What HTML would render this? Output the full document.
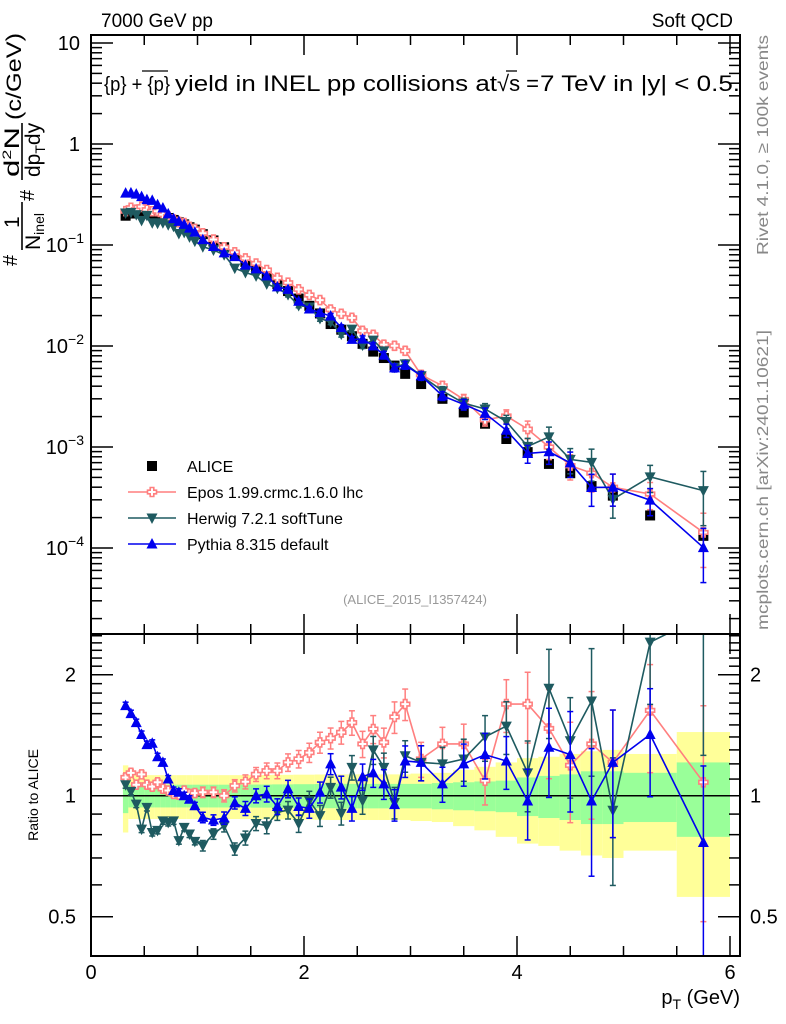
<!DOCTYPE html>
<html><head><meta charset="utf-8"><style>
html,body{margin:0;padding:0;background:#fff;}
svg{display:block;font-family:"Liberation Sans",sans-serif;}
</style></head><body>
<svg id="chart" width="786" height="1024" viewBox="0 0 786 1024" xmlns="http://www.w3.org/2000/svg">
<rect x="0" y="0" width="786" height="1024" fill="#fff"/>
<g id="bands"></g>
<g id="ticks"></g>
<g id="series"></g>
<rect x="91" y="35" width="649" height="599" fill="none" stroke="#000" stroke-width="2"/>
<rect x="91" y="634" width="649" height="322" fill="none" stroke="#000" stroke-width="2"/>
<text x="101" y="27" font-size="19">7000 GeV pp</text>
<text x="733" y="27" font-size="19" text-anchor="end">Soft QCD</text>
<g>
<text x="104" y="91" font-size="20" textLength="66" lengthAdjust="spacingAndGlyphs">{p} + {p}</text>
<text x="175" y="91" font-size="22" textLength="322" lengthAdjust="spacingAndGlyphs">yield in INEL pp collisions at</text>
<text x="497" y="91" font-size="22">√s =</text>
<text x="540" y="91" font-size="22" textLength="200" lengthAdjust="spacingAndGlyphs">7 TeV in |y| &lt; 0.5.</text>
<line x1="142" y1="71" x2="168" y2="71" stroke="#000" stroke-width="1.3"/>
<line x1="506" y1="71" x2="517" y2="71" stroke="#000" stroke-width="1.3"/>
</g>
<g transform="rotate(-90)">
<text x="-266" y="17" font-size="20">#</text>
<text x="-228" y="19" font-size="21">1</text>
<line x1="-250" y1="22" x2="-202" y2="22" stroke="#000" stroke-width="1.6"/>
<text x="-250" y="40" font-size="21">N<tspan font-size="14" dy="4">inel</tspan></text>
<text x="-201" y="34" font-size="20">#</text>
<text x="-177" y="19" font-size="21" textLength="50" lengthAdjust="spacingAndGlyphs">d<tspan font-size="12" dy="-8">2</tspan><tspan dy="8">N</tspan></text>
<line x1="-180" y1="22" x2="-123" y2="22" stroke="#000" stroke-width="1.6"/>
<text x="-177" y="40" font-size="21">dp<tspan font-size="14" dy="5">T</tspan><tspan dy="-5">dy</tspan></text>
<text x="-120" y="21" font-size="21" textLength="87" lengthAdjust="spacingAndGlyphs">(c/GeV)</text>
</g>
<text transform="translate(38,795) rotate(-90)" font-size="14" text-anchor="middle">Ratio to ALICE</text>
<text x="740" y="1004" font-size="20" text-anchor="end">p<tspan font-size="14" dy="5">T</tspan><tspan dy="-5"> (GeV)</tspan></text>
<text transform="translate(768,255) rotate(-90)" font-size="16" fill="#888" textLength="220" lengthAdjust="spacingAndGlyphs">Rivet 4.1.0, ≥ 100k events</text>
<text transform="translate(768,630) rotate(-90)" font-size="16" fill="#888" textLength="300" lengthAdjust="spacingAndGlyphs">mcplots.cern.ch [arXiv:2401.10621]</text>
<text x="415" y="604" font-size="13" fill="#999" text-anchor="middle">(ALICE_2015_I1357424)</text>
<g id="legend"></g>
</svg>
<script>
const ptCenters=[0.325,0.375,0.425,0.475,0.525,0.575,0.625,0.675,0.725,0.775,0.825,0.875,0.925,0.975,1.05,1.15,1.25,1.35,1.45,1.55,1.65,1.75,1.85,1.95,2.05,2.15,2.25,2.35,2.45,2.55,2.65,2.75,2.85,2.95,3.1,3.3,3.5,3.7,3.9,4.1,4.3,4.5,4.7,4.9,5.25,5.75];
const ptLow=[0.3,0.35,0.4,0.45,0.5,0.55,0.6,0.65,0.7,0.75,0.8,0.85,0.9,0.95,1.0,1.1,1.2,1.3,1.4,1.5,1.6,1.7,1.8,1.9,2.0,2.1,2.2,2.3,2.4,2.5,2.6,2.7,2.8,2.9,3.0,3.2,3.4,3.6,3.8,4.0,4.2,4.4,4.6,4.8,5.0,5.5];
const ptHigh=[0.35,0.4,0.45,0.5,0.55,0.6,0.65,0.7,0.75,0.8,0.85,0.9,0.95,1.0,1.1,1.2,1.3,1.4,1.5,1.6,1.7,1.8,1.9,2.0,2.1,2.2,2.3,2.4,2.5,2.6,2.7,2.8,2.9,3.0,3.2,3.4,3.6,3.8,4.0,4.2,4.4,4.6,4.8,5.0,5.5,6.0];
const aliceYield=[0.195,0.205,0.21,0.212,0.21,0.205,0.2,0.192,0.185,0.177,0.168,0.16,0.15,0.142,0.128,0.111,0.095,0.08,0.068,0.058,0.049,0.041,0.035,0.0295,0.025,0.021,0.0165,0.0145,0.0125,0.0105,0.0088,0.0076,0.0064,0.0053,0.0042,0.003,0.0022,0.0017,0.0012,0.00089,0.00068,0.00055,0.00041,0.00033,0.00021,0.000132];
const aliceStatErr=[0.095,0.065,0.065,0.065,0.065,0.065,0.065,0.065,0.065,0.065,0.065,0.065,0.065,0.065,0.065,0.065,0.065,0.065,0.065,0.066,0.066,0.067,0.067,0.068,0.068,0.069,0.069,0.07,0.07,0.07,0.07,0.07,0.07,0.07,0.07,0.075,0.08,0.085,0.09,0.11,0.12,0.13,0.15,0.15,0.14,0.21];
const aliceTotErr=[0.19,0.125,0.125,0.125,0.125,0.125,0.125,0.125,0.125,0.125,0.125,0.125,0.125,0.125,0.125,0.125,0.125,0.125,0.125,0.126,0.126,0.127,0.127,0.128,0.128,0.129,0.13,0.13,0.13,0.13,0.13,0.13,0.13,0.13,0.135,0.14,0.16,0.18,0.21,0.24,0.25,0.27,0.29,0.3,0.27,0.44];
const eposRatio=[1.11,1.14,1.065,1.13,1.065,1.053,1.08,1.04,1.03,1.01,1.006,1.03,1.01,1.015,1.02,1.02,1.0,1.059,1.083,1.13,1.154,1.154,1.21,1.234,1.28,1.357,1.39,1.437,1.52,1.345,1.465,1.357,1.57,1.69,1.234,1.345,1.345,1.09,1.69,1.69,1.47,1.19,1.345,1.21,1.63,1.08];
const herwigRatio=[1.065,1.025,0.953,0.826,0.935,0.81,0.82,0.866,0.858,0.866,0.773,0.834,0.803,0.77,0.751,0.803,0.842,0.737,0.785,0.853,0.842,0.909,0.921,0.853,0.972,0.892,1.049,0.904,1.176,0.972,1.3,1.176,0.962,1.257,1.21,1.2,1.234,1.4,1.49,1.14,1.85,1.37,1.72,0.92,2.41,2.8];
const pythiaRatio=[1.675,1.6,1.52,1.42,1.34,1.35,1.25,1.21,1.1,1.03,1.02,1.0,0.98,0.944,0.883,0.87,0.88,0.96,0.93,1.0,1.01,0.94,1.04,0.94,0.93,1.02,1.2,1.05,0.93,1.115,1.14,1.07,0.95,1.22,1.21,1.07,1.2,1.265,1.22,0.97,1.32,1.265,0.97,1.21,1.42,0.765];
const modelRelErr=[0.02,0.02,0.02,0.02,0.02,0.02,0.02,0.02,0.02,0.02,0.02,0.02,0.02,0.02,0.03,0.03,0.035,0.035,0.04,0.04,0.045,0.045,0.05,0.05,0.055,0.06,0.06,0.065,0.07,0.075,0.08,0.085,0.09,0.09,0.1,0.1,0.12,0.13,0.15,0.2,0.25,0.28,0.35,0.35,0.3,0.55];
const mainTickLabels=["10","1","10","10","10","10"];
const mainTickExps=[null,null,"−1","−2","−3","−4"];
const mainTickValues=[10,1,0.1,0.01,0.001,0.0001];
const ratioTickValues=[2,1,0.5];
const ratioTickLabels=["2","1","0.5"];
const xTickValues=[0,2,4,6];
const xTickLabels=["0","2","4","6"];

const NS="http://www.w3.org/2000/svg";
const X=pt=>91+pt*106.5;
const Ym=v=>144-101*Math.log10(v);
const Yr=r=>795.7-121*Math.log2(r);
const MAIN_TOP=35,MAIN_BOT=634,R_TOP=634,R_BOT=956;
function mk(tag,attrs,parent){const e=document.createElementNS(NS,tag);for(const k in attrs)e.setAttribute(k,attrs[k]);parent.appendChild(e);return e;}
const bandsG=document.getElementById('bands');
const ticksG=document.getElementById('ticks');
const seriesG=document.getElementById('series');
const legendG=document.getElementById('legend');
const defs=mk('defs',{},document.getElementById('chart'));
const cpM=mk('clipPath',{id:'clipMain'},defs);mk('rect',{x:91,y:MAIN_TOP,width:649,height:MAIN_BOT-MAIN_TOP},cpM);
const cpR=mk('clipPath',{id:'clipRatio'},defs);mk('rect',{x:91,y:R_TOP,width:649,height:R_BOT-R_TOP},cpR);

for(let i=0;i<ptCenters.length;i++){
  const x1=X(ptLow[i]),x2=X(ptHigh[i]);
  const y=mk('rect',{x:x1,y:Yr(1+aliceTotErr[i]),width:x2-x1,height:Yr(1-aliceTotErr[i])-Yr(1+aliceTotErr[i]),fill:'#ffff99'},bandsG);
  
  
}
for(let i=0;i<ptCenters.length;i++){
  const x1=X(ptLow[i]),x2=X(ptHigh[i]);
  const g=mk('rect',{x:x1,y:Yr(1+aliceStatErr[i]),width:x2-x1,height:Yr(1-aliceStatErr[i])-Yr(1+aliceStatErr[i]),fill:'#99ff99'},bandsG);
  
  
}
const one=mk('line',{x1:91,x2:740,y1:Yr(1),y2:Yr(1),stroke:'#000','stroke-width':1.5},bandsG);



function tick(x1,y1,x2,y2){mk('line',{x1,y1,x2,y2,stroke:'#000','stroke-width':1.5},ticksG);}
for(let d=-5;d<=1;d++){for(let m=1;m<=9;m++){const v=m*Math.pow(10,d);const y=Ym(v);if(y<MAIN_TOP+1||y>MAIN_BOT-1)continue;const L=m===1?22:11;tick(91,y,91+L,y);tick(740,y,740-L,y);}}
mainTickValues.forEach((v,i)=>{const t=mk('text',{x:80,y:Ym(v)+7,'font-size':20,'text-anchor':'end'},ticksG);
  
  
  t.textContent=mainTickLabels[i];
  if(mainTickExps[i]){const s=mk('tspan',{'font-size':14,dy:-9},t);s.textContent=mainTickExps[i];t.setAttribute('x',84);}
});
for(let r=0.4;r<=2.5;r=Math.round((r+0.1)*10)/10){const y=Yr(r);if(y<R_TOP+1||y>R_BOT-1)continue;const major=(r===1||r===2||r===0.5);const L=major?22:11;tick(91,y,91+L,y);tick(740,y,740-L,y);}
ratioTickValues.forEach((v,i)=>{
  const t=mk('text',{x:76,y:Yr(v)+7,'font-size':20,'text-anchor':'end'},ticksG);
  
  
  t.textContent=ratioTickLabels[i];
  const t2=mk('text',{x:750,y:Yr(v)+7,'font-size':20},ticksG);
  
  
  t2.textContent=ratioTickLabels[i];
});
for(let p=0;p<=6.01;p+=0.5){const x=X(p);const L=(Math.abs(p%2)<0.01)?20:10;
  tick(x,MAIN_TOP,x,MAIN_TOP+L);tick(x,MAIN_BOT,x,MAIN_BOT-L);tick(x,R_TOP,x,R_TOP+L);tick(x,R_BOT,x,R_BOT-L);}
xTickValues.forEach((v,i)=>{const t=mk('text',{x:X(v),y:979,'font-size':20,'text-anchor':'middle'},ticksG);
  
  
  t.textContent=xTickLabels[i];});

function marker(type,x,y,color,parent){
  const s=5.5;
  if(type==='square')return mk('rect',{x:x-5,y:y-5,width:10,height:10,fill:color},parent);
  if(type==='up')return mk('polygon',{points:`${x},${y-s-0.5} ${x-s},${y+s-1} ${x+s},${y+s-1}`,fill:color},parent);
  if(type==='down')return mk('polygon',{points:`${x},${y+s+0.5} ${x-s},${y-s+1} ${x+s},${y-s+1}`,fill:color},parent);
  if(type==='cross'){const a=1.8,b=4.5;return mk('polygon',{points:`${x-a},${y-b} ${x+a},${y-b} ${x+a},${y-a} ${x+b},${y-a} ${x+b},${y+a} ${x+a},${y+a} ${x+a},${y+b} ${x-a},${y+b} ${x-a},${y+a} ${x-b},${y+a} ${x-b},${y-a} ${x-a},${y-a}`,fill:'#fff',stroke:color,'stroke-width':1.6},parent);}
}
const models=[
  {name:'epos',ratio:eposRatio,color:'#ff7f7f',type:'cross'},
  {name:'herwig',ratio:herwigRatio,color:'#1e5a60',type:'down'},
  {name:'pythia',ratio:pythiaRatio,color:'#0000ee',type:'up'}
];
const aG=mk('g',{'clip-path':'url(#clipMain)'},seriesG);


aliceYield.forEach((v,i)=>{const m=marker('square',X(ptCenters[i]),Ym(v),'#000',aG);
  
  });
models.forEach(md=>{
  ['main','ratio'].forEach(panel=>{
    const g=mk('g',{'clip-path':panel==='main'?'url(#clipMain)':'url(#clipRatio)'},seriesG);
    
    
    const pts=[];
    md.ratio.forEach((r,i)=>{
      const x=X(ptCenters[i]);
      const val=panel==='main'?aliceYield[i]*r:r;
      const Yf=panel==='main'?Ym:Yr;
      const e=modelRelErr[i];
      const y=Yf(val),yh=Yf(val*(1+e)),yl=Yf(Math.max(val*(1-e),1e-9));
      pts.push(x+','+y);
      if(Math.abs(yl-yh)>4){
        mk('line',{x1:x,x2:x,y1:yh,y2:yl,stroke:md.color,'stroke-width':1.5},g);
        mk('line',{x1:x-3,x2:x+3,y1:yh,y2:yh,stroke:md.color,'stroke-width':1.5},g);
        mk('line',{x1:x-3,x2:x+3,y1:yl,y2:yl,stroke:md.color,'stroke-width':1.5},g);
      }
    });
    const pl=mk('polyline',{points:pts.join(' '),fill:'none',stroke:md.color,'stroke-width':1.6},g);
    
    
    md.ratio.forEach((r,i)=>{
      const val=panel==='main'?aliceYield[i]*r:r;
      const y=panel==='main'?Ym(val):Yr(val);
      const m=marker(md.type,X(ptCenters[i]),y,md.color,g);
      
      
    });
  });
});
const legendEntries=[
  {label:'ALICE',type:'square',color:'#000',line:false},
  {label:'Epos 1.99.crmc.1.6.0 lhc',type:'cross',color:'#ff7f7f',line:true},
  {label:'Herwig 7.2.1 softTune',type:'down',color:'#1e5a60',line:true},
  {label:'Pythia 8.315 default',type:'up',color:'#0000ee',line:true}
];
legendEntries.forEach((en,i)=>{
  const y=466+i*26;
  const g=mk('g',{},legendG);
  
  
  if(en.line)mk('line',{x1:128,x2:176,y1:y,y2:y,stroke:en.color,'stroke-width':1.6},g);
  marker(en.type,152,y,en.color,g);
  const t=mk('text',{x:187,y:y+6,'font-size':16},g);
  t.textContent=en.label;
});
</script>
</body></html>
